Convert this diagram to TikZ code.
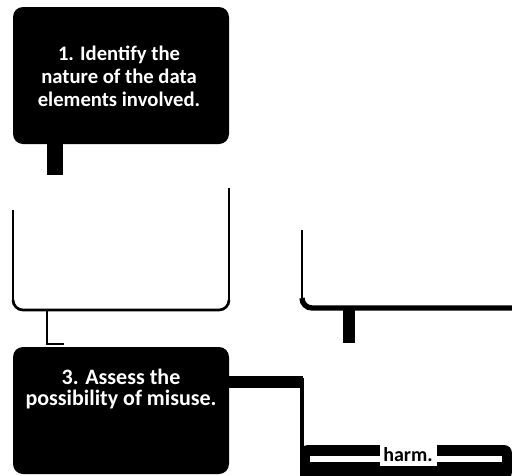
\documentclass[tikz,border=0pt]{standalone}
\usepackage{fontspec}
\setmainfont{Carlito}
\begin{document}
\begin{tikzpicture}[x=0.75pt,y=-0.75pt,
  darkbox/.style={fill=black,rounded corners=10*0.75pt},
  txt/.style={text=white,align=center,font=\fontsize{15.5}{17.3}\selectfont\bfseries},
  bar/.style={fill=black},
  edge/.style={draw=black,line width=1.2pt}]
\useasboundingbox (0,0) rectangle (512,476);
% box 1
\fill[darkbox] (13,7) rectangle (229,144);
\node[txt] (b1) at (119,76) {1. Identify the\\nature of the data\\elements involved.};
% connector 1 -> 2
\fill[bar] (47,143) rectangle (63,175);
% box 2 (white, outline partly visible)
\draw[edge] (13,210) -- (13,300);
\draw[line width=2pt] (13,300) to[out=-90,in=180] (23,310) -- (219,310) to[out=0,in=-90] (229,300);
\draw[edge] (229,300) -- (229,188);
% connector 2 -> 3
\draw[line width=1.2pt] (47,310) -- (47,344) -- (64,344);
% box 3
\fill[darkbox] (13,347) rectangle (229,474);
\node[txt,font=\fontsize{16.5}{15.3}\selectfont\bfseries] (b3) at (121,389) {3. Assess the\\possibility of misuse.};
% connector 3 -> lower right
\fill[bar] (228,376) rectangle (303,388);
% upper right box (white)
\draw[edge] (302,230) -- (302,298);
\draw[line width=4pt] (302,298) to[out=-90,in=180] (312,308) -- (512,308);
% connector upper right -> lower right
\fill[bar] (343,306) rectangle (355,343);
% lower right box
\draw[line width=3pt] (302,378) -- (302,476);
\fill[black,rounded corners=8*0.75pt] (300,445) rectangle (512,480);
\fill[white] (310,456) rectangle (502,462);
\fill[white] (380,445) rectangle (437,466);
\node[font=\fontsize{15}{15}\selectfont\bfseries] (b5) at (408,455) {harm.};
\end{tikzpicture}
\end{document}
